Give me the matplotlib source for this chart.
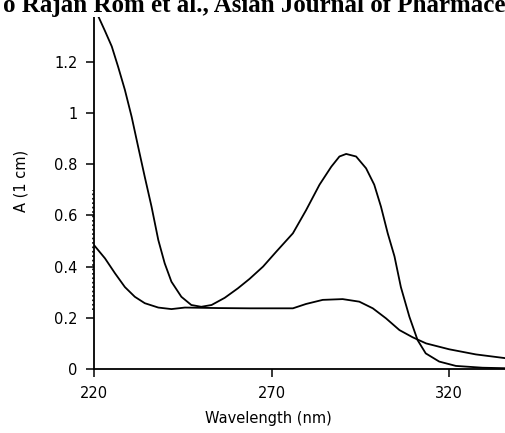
import matplotlib.pyplot as plt

# spectrum 1 (strong band near 290 nm)
wl_1 = [220, 220.8, 223.1, 225.0, 226.8, 228.7, 230.6, 232.4, 234.3, 236.2, 238.1,
        239.9, 241.8, 244.6, 247.4, 250.2, 253.1, 256.8, 260.5, 263.8, 267.6,
        271.3, 276.0, 279.7, 283.5, 286.8, 289.1, 291.0, 293.8, 296.6, 298.9,
        300.8, 302.7, 304.6, 306.4, 308.8, 311.1, 313.4, 317.2, 321.9, 329.4, 336]
abs_1 = [1.40, 1.39, 1.32, 1.26, 1.18, 1.09, 0.985, 0.87, 0.75, 0.634, 0.504,
         0.413, 0.341, 0.282, 0.25, 0.243, 0.25, 0.278, 0.315, 0.352, 0.40,
         0.458, 0.53, 0.62, 0.72, 0.79, 0.83, 0.84, 0.83, 0.784, 0.72,
         0.634, 0.53, 0.44, 0.32, 0.204, 0.113, 0.061, 0.029, 0.012, 0.005, 0.003]

# spectrum 2 (weak band)
wl_2 = [220, 223.1, 225.9, 228.7, 231.5, 234.3, 238.1, 241.8, 245.6, 255, 263.8,
        276.0, 279.7, 284.4, 290.0, 294.7, 298.5, 302.2, 306.0, 309.7, 313.5,
        320.0, 327.5, 336]
abs_2 = [0.484, 0.432, 0.374, 0.32, 0.282, 0.257, 0.24, 0.234, 0.24, 0.238, 0.237,
         0.237, 0.254, 0.27, 0.273, 0.263, 0.237, 0.198, 0.152, 0.124, 0.10,
         0.077, 0.057, 0.042]

# noisy start of the scan along the axis
wl_noise = [219.7, 219.7]
abs_noise = [0.23, 0.70]

xticks = [220, 270, 320]
yticks = [0, 0.2, 0.4, 0.6, 0.8, 1, 1.2, 1.4]
ytick_labels = ['0', '0.2', '0.4', '0.6', '0.8', '1', '1.2', '1.4']

fig = plt.figure(figsize=(5.06, 4.33), dpi=100)
ax = fig.add_axes([94 / 506, 1 - 369 / 433, 1 - 94 / 506, (369 - 8) / 433])

ax.plot(wl_1, abs_1, color='black', lw=1.3)
ax.plot(wl_2, abs_2, color='black', lw=1.3)
ax.plot(wl_noise, abs_noise, color='black', lw=1.2, ls=':', clip_on=False)

ax.set_xlim(220, 336)
ax.set_ylim(0, 1.41)
ax.set_xticks(xticks)
ax.set_yticks(yticks)
ax.set_yticklabels(ytick_labels)
for s in ['top', 'right']:
    ax.spines[s].set_visible(False)
ax.spines['left'].set_linewidth(1.3)
ax.spines['bottom'].set_linewidth(1.3)
ax.tick_params(direction='out', length=6, width=1.1, labelsize=10.5, pad=6)

ax.set_xlabel('Wavelength (nm)', fontsize=10.5)
ax.xaxis.set_label_coords((268 - 94) / 412, -0.115)
ax.set_ylabel('A (1 cm)', fontsize=10.5)
ax.yaxis.set_label_coords(-0.16, 0.52)

# cropped running header of the source page
fig.text(0.005, 1 - 12 / 433, 'o Rajan Rom et al., Asian Journal of Pharmaceu',
         family='Liberation Serif', fontweight='bold', fontsize=18, va='baseline',
         ha='left', zorder=10,
         bbox=dict(facecolor='white', edgecolor='none', pad=0))

fig.savefig('out.png', dpi=100)
